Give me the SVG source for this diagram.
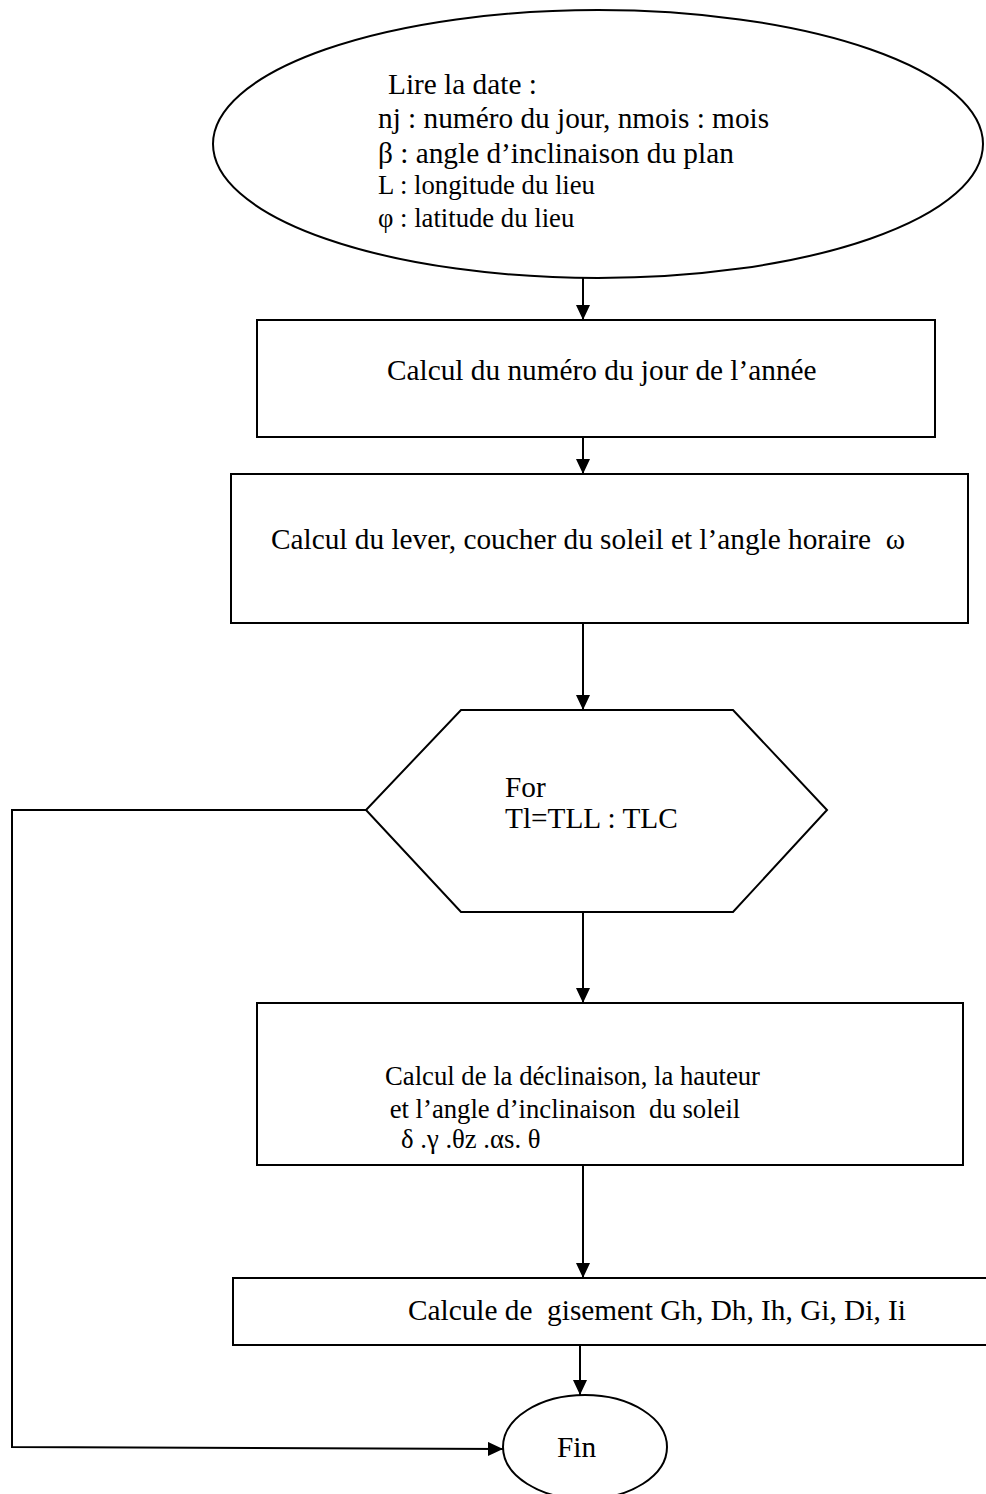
<svg xmlns="http://www.w3.org/2000/svg" width="986" height="1494" viewBox="0 0 986 1494">
<style>
.s{fill:#fff;stroke:#000;stroke-width:2}
.t{font-family:"Liberation Serif","Times New Roman",serif;font-size:29.3px;fill:#000}
.sm{font-size:26.7px}
.c{fill:none;stroke:#000;stroke-width:2}
</style>
<defs>
<marker id="ah" markerUnits="userSpaceOnUse" markerWidth="16" markerHeight="14" refX="15" refY="7" orient="auto">
<path d="M0,0 L15,7 L0,14 Z" fill="#000"/>
</marker>
</defs>
<rect width="986" height="1494" fill="#fff"/>
<g id="connectors">
<line class="c" x1="583" y1="278" x2="583" y2="320" marker-end="url(#ah)"/>
<line class="c" x1="583" y1="437" x2="583" y2="474" marker-end="url(#ah)"/>
<line class="c" x1="583" y1="623" x2="583" y2="710" marker-end="url(#ah)"/>
<line class="c" x1="583" y1="912" x2="583" y2="1003" marker-end="url(#ah)"/>
<line class="c" x1="583" y1="1165" x2="583" y2="1278" marker-end="url(#ah)"/>
<line class="c" x1="580" y1="1345" x2="580" y2="1395" marker-end="url(#ah)"/>
<polyline class="c" points="366,810 12,810 12,1447 503,1449" marker-end="url(#ah)"/>
</g>
<g id="start">
<ellipse class="s" cx="598" cy="144" rx="385" ry="134"/>
<text class="t" x="388" y="94">Lire la date :</text>
<text class="t" x="378" y="128">nj : numéro du jour, nmois : mois</text>
<text class="t" x="378" y="163">β : angle d’inclinaison du plan</text>
<text class="t sm" x="378" y="194">L : longitude du lieu</text>
<text class="t sm" x="378" y="227">φ : latitude du lieu</text>
</g>
<g id="jour">
<rect class="s" x="257" y="320" width="678" height="117"/>
<text class="t" x="387" y="380">Calcul du numéro du jour de l’année</text>
</g>
<g id="lever">
<rect class="s" x="231" y="474" width="737" height="149"/>
<text class="t" x="271" y="549" xml:space="preserve">Calcul du lever, coucher du soleil et l’angle horaire  ω</text>
</g>
<g id="boucle">
<polygon class="s" points="461,710 733,710 827,810 733,912 461,912 366,810"/>
<text class="t" x="505" y="797">For</text>
<text class="t" x="505" y="828">Tl=TLL : TLC</text>
</g>
<g id="declinaison">
<rect class="s" x="257" y="1003" width="706" height="162"/>
<text class="t sm" x="385" y="1085">Calcul de la déclinaison, la hauteur</text>
<text class="t sm" x="383" y="1118" xml:space="preserve"> et l’angle d’inclinaison  du soleil</text>
<text class="t sm" x="401" y="1148">δ .γ .θz .αs. θ</text>
</g>
<g id="gisement">
<rect class="s" x="233" y="1278" width="760" height="67"/>
<text class="t" x="408" y="1320" xml:space="preserve">Calcule de  gisement Gh, Dh, Ih, Gi, Di, Ii</text>
</g>
<g id="fin">
<ellipse class="s" cx="585" cy="1447" rx="82" ry="52"/>
<text class="t" x="557" y="1457">Fin</text>
</g>
</svg>
